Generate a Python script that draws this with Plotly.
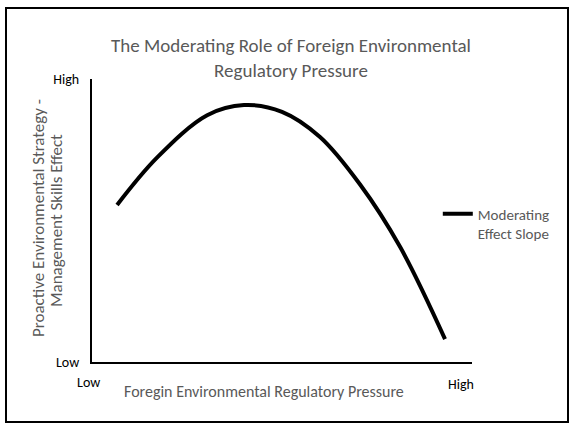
import plotly.graph_objects as go

# moderating effect curve (0 = Low, 10 = High)
pressure = [0.66, 1.71, 3.03, 4.0, 5.0, 6.0, 7.05, 8.11, 9.29]
effect = [5.55, 7.22, 8.72, 9.08, 8.84, 7.95, 6.28, 4.06, 0.81]

tick_vals = [0, 10]
tick_text = ["Low", "High"]

FONT = "Carlito, Calibri, Lato, sans-serif"
GREY = "#595959"

# plot area in pixels (figure is 571 x 424)
L, R, T, B = 92, 472, 79, 362
W, H = R - L, B - T


def px(x):
    return (x - L) / W


def py(y):
    return (B - y) / H


fig = go.Figure()
fig.add_trace(go.Scatter(
    x=pressure,
    y=effect,
    mode="lines",
    name="Moderating<br>Effect Slope",
    line=dict(color="black", width=4, shape="spline", smoothing=1.0),
))

fig.update_layout(
    width=571,
    height=424,
    margin=dict(l=L, r=571 - R, t=T, b=424 - B),
    paper_bgcolor="white",
    plot_bgcolor="white",
    font=dict(family=FONT, size=12, color=GREY),
    title=dict(
        text="The Moderating Role of Foreign Environmental<br>Regulatory Pressure",
        x=291 / 571, xanchor="center", y=1 - 52 / 424, yanchor="middle",
        font=dict(size=19, color=GREY),
    ),
    showlegend=True,
    legend=dict(x=0.91, y=0.581, xanchor="left", yanchor="top",
                valign="top", font=dict(size=15, color=GREY),
                bgcolor="rgba(0,0,0,0)"),
    xaxis=dict(range=[0, 10], showgrid=False, zeroline=False,
               showline=True, linecolor="black", linewidth=2,
               tickvals=[], showticklabels=False),
    yaxis=dict(range=[0, 10], showgrid=False, zeroline=False,
               showline=True, linecolor="black", linewidth=2,
               tickvals=tick_vals, ticktext=tick_text, ticks="",
               ticklabelstandoff=8,
               tickfont=dict(size=14, color="black")),
    annotations=[
        dict(text=tick_text[0], x=px(88.5), y=py(382), xref="paper", yref="paper",
             xanchor="center", yanchor="middle", showarrow=False,
             font=dict(size=14, color="black")),
        dict(text=tick_text[1], x=px(461), y=py(384), xref="paper", yref="paper",
             xanchor="center", yanchor="middle", showarrow=False,
             font=dict(size=14, color="black")),
        dict(text="Foregin Environmental Regulatory Pressure",
             x=px(264), y=py(391), xref="paper", yref="paper",
             xanchor="center", yanchor="middle", showarrow=False,
             font=dict(size=16, color=GREY)),
        dict(text="Proactive Environmental Strategy -",
             x=px(38), y=py(218), xref="paper", yref="paper",
             xanchor="center", yanchor="middle", textangle=-90,
             showarrow=False, font=dict(size=17, color=GREY)),
        dict(text="Management Skills Effect",
             x=px(56), y=py(221), xref="paper", yref="paper",
             xanchor="center", yanchor="middle", textangle=-90,
             showarrow=False, font=dict(size=17, color=GREY)),
    ],
    shapes=[dict(type="rect", xref="paper", yref="paper",
                 x0=px(6), x1=px(568), y0=py(422), y1=py(8),
                 line=dict(color="black", width=2))],
)

fig.write_html("out.html", config={"displayModeBar": False},
               post_script="document.body.style.margin='0';")
